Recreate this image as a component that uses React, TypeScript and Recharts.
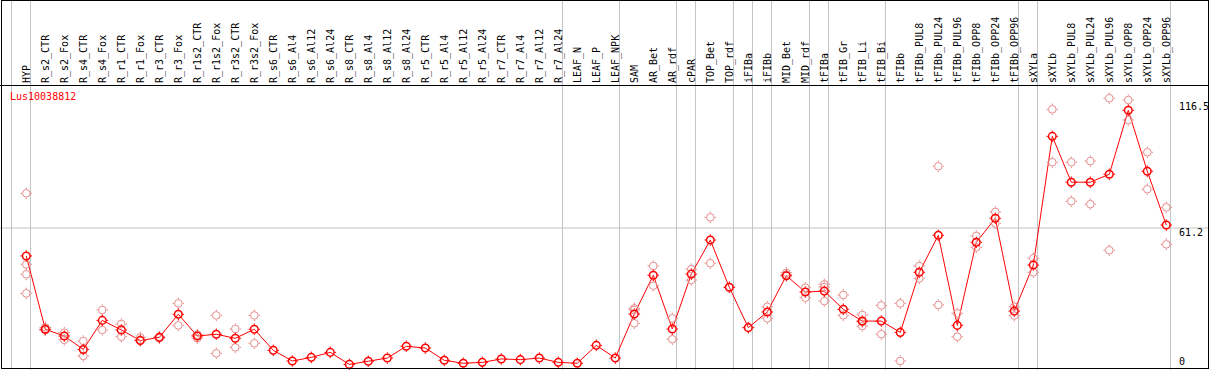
import type { FC } from 'react';
import { ComposedChart, Line, Scatter, XAxis, YAxis, ReferenceLine } from 'recharts';

const categories = [
  'HYP', 'R_s2_CTR', 'R_s2_Fox', 'R_s4_CTR', 'R_s4_Fox', 'R_r1_CTR', 'R_r1_Fox', 'R_r3_CTR', 'R_r3_Fox',
  'R_r1s2_CTR', 'R_r1s2_Fox', 'R_r3s2_CTR', 'R_r3s2_Fox', 'R_s6_CTR', 'R_s6_Al4', 'R_s6_Al12', 'R_s6_Al24',
  'R_s8_CTR', 'R_s8_Al4', 'R_s8_Al12', 'R_s8_Al24', 'R_r5_CTR', 'R_r5_Al4', 'R_r5_Al12', 'R_r5_Al24',
  'R_r7_CTR', 'R_r7_Al4', 'R_r7_Al12', 'R_r7_Al24', 'LEAF_N', 'LEAF_P', 'LEAF_NPK', 'SAM', 'AR_Bet', 'AR_rdf',
  'cPAR', 'TOP_Bet', 'TOP_rdf', 'iFIBa', 'iFIBb', 'MID_Bet', 'MID_rdf', 'tFIBa', 'tFIB_Gr', 'tFIB_Li', 'tFIB_Bi',
  'tFIBb', 'tFIBb_PUL8', 'tFIBb_PUL24', 'tFIBb_PUL96', 'tFIBb_OPP8', 'tFIBb_OPP24', 'tFIBb_OPP96', 'sXYLa',
  'sXYLb', 'sXYLb_PUL8', 'sXYLb_PUL24', 'sXYLb_PUL96', 'sXYLb_OPP8', 'sXYLb_OPP24', 'sXYLb_OPP96',
];

// mean expression per sample
const means = [
  48.9, 16.6, 13.6, 7.7, 20.5, 16.3, 11.6, 13.0, 23.2, 13.6, 14.4, 12.6, 16.6, 7.3, 2.6, 4.2, 6.4,
  1.1, 2.5, 3.9, 9.1, 8.3, 2.9, 1.6, 2.0, 3.5, 3.2, 3.9, 2.0, 1.6, 9.5, 3.9, 23.3, 40.4, 16.7,
  40.9, 55.9, 35.1, 17.3, 24.2, 40.2, 33.0, 33.4, 25.4, 20.2, 20.2, 15.2, 41.7, 58.0, 18.3, 54.9,
  65.5, 24.6, 44.9, 101.6, 81.4, 81.4, 84.9, 113.1, 86.2, 62.5,
];

// individual replicates per sample
const replicates: number[][] = [
  [76.5, 45.2, 40.8, 32.4], [17.4, 16.2, 16.3], [15.1, 11.9], [11.4, 4.8], [25.1, 16.3], [18.9, 13.3],
  [13.0, 11.9], [13.3, 12.6], [28.0, 18.3], [14.2, 12.6], [22.7, 6.0], [16.7, 8.6], [22.7, 10.4],
  [], [], [], [], [], [], [], [], [], [], [], [], [], [], [], [], [], [], [],
  [25.8, 25.1, 19.2], [44.5, 35.8], [21.4, 12.2], [43.1, 38.3], [65.9, 45.7], [35.1], [17.3],
  [26.5, 21.4], [41.5, 40.6], [34.9, 30.5], [36.4, 35.2, 29.0], [31.7, 22.7], [22.9, 19.8, 18.0],
  [27.1, 14.4], [28.0, 2.6], [44.5, 39.0], [88.4, 27.3], [23.6, 13.3], [57.7, 52.7], [68.3, 63.3],
  [26.5, 22.6], [47.9, 41.7], [113.5, 90.2], [90.2, 73.0], [90.7, 71.7], [118.4, 51.4], [117.6, 108.8],
  [94.6, 78.3], [70.3, 54.0],
];

// group separators sit just right of these sample indices
const groupEnds = [0, 28, 31, 34, 35, 37, 38, 39, 41, 42, 45, 52, 53, 60];
const yTicks = [0, 61.2, 116.5];

const chartData = categories.map((name, i) => ({ idx: i, name, mean: means[i] }));
const repData = replicates.flatMap((vals, i) => vals.map((v) => ({ idx: i, value: v })));

const RED = '#ff0000';
const PINK = '#e68c8c';
const GRID = '#c4c4c4';
const FONT = '"DejaVu Sans Mono", monospace';

const marker = (cx: number, cy: number, color: string, width: number) => (
  <g>
    <circle cx={cx} cy={cy} r={3.8} fill="none" stroke={color} strokeWidth={width} />
    <path
      d={`M${cx},${cy - 5.8}v1.5M${cx},${cy + 4.3}v1.5M${cx - 5.8},${cy}h1.5M${cx + 4.3},${cy}h1.5`}
      stroke={color}
      strokeWidth={1}
    />
  </g>
);

const CatTick = (props: any) => {
  const { x, payload } = props;
  return (
    <text
      x={x}
      y={83}
      transform={`rotate(-90, ${x}, 83)`}
      textAnchor="start"
      dominantBaseline="central"
      fontFamily={FONT}
      fontSize={10}
      fill="#000"
    >
      {categories[payload.value]}
    </text>
  );
};

const ValueTick = (props: any) => {
  const { y, payload } = props;
  return (
    <text x={1179} y={Math.min(y + 4.3, 361.7)} dominantBaseline="central" fontFamily={FONT} fontSize={10} fill="#000">
      {payload.value}
    </text>
  );
};

const App: FC = () => (
  <div style={{ position: 'absolute', left: 0, top: 0, width: 1209, height: 370, background: '#fff' }}>
    <ComposedChart width={1209} height={370} data={chartData} margin={{ top: 0, right: 0, bottom: 0, left: 0 }}>
      <XAxis
        type="number"
        dataKey="idx"
        domain={[-1.384, 62.247]}
        allowDataOverflow
        ticks={chartData.map((d) => d.idx)}
        interval={0}
        mirror
        axisLine={false}
        tickLine={false}
        tick={<CatTick />}
      />
      <YAxis
        orientation="right"
        domain={[-1.366, 161.7]}
        allowDataOverflow
        ticks={yTicks}
        interval={0}
        mirror
        axisLine={false}
        tickLine={false}
        tick={<ValueTick />}
      />
      {groupEnds.map((g) => (
        <ReferenceLine key={g} x={g + 0.22} stroke={GRID} strokeWidth={1} ifOverflow="visible" />
      ))}
      <ReferenceLine y={61.2} stroke={GRID} strokeWidth={1} ifOverflow="visible" />
      <Scatter
        data={repData}
        dataKey="value"
        isAnimationActive={false}
        shape={(p: any) => marker(p.cx, p.cy, PINK, 1)}
      />
      <Line
        dataKey="mean"
        stroke={RED}
        strokeWidth={1}
        isAnimationActive={false}
        dot={(p: any) => <g key={p.index}>{marker(p.cx, p.cy, RED, 1.5)}</g>}
        activeDot={false}
      />
    </ComposedChart>
    {/* leading separator left of the first sample */}
    <div style={{ position: 'absolute', left: 11, top: 0, width: 1, height: 369, background: GRID }} />
    <div style={{ position: 'absolute', left: 0, top: 85, width: 1209, height: 1, background: '#000' }} />
    <div
      style={{
        position: 'absolute',
        left: 1,
        top: 0,
        width: 1208,
        height: 369,
        border: '1px solid #000',
        boxSizing: 'border-box',
        pointerEvents: 'none',
      }}
    />
    <div
      style={{
        position: 'absolute',
        left: 10,
        top: 91,
        fontFamily: FONT,
        fontSize: 10,
        lineHeight: '12px',
        color: RED,
      }}
    >
      Lus10038812
    </div>
  </div>
);

export default App;
